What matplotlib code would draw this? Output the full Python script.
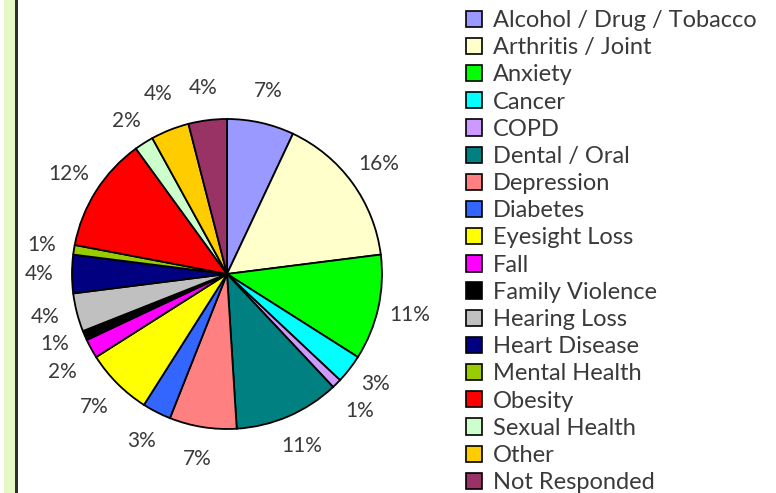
import matplotlib
matplotlib.use("Agg")
import matplotlib.pyplot as plt
from matplotlib.patches import Rectangle, Patch

plt.rcParams['font.family'] = ['Lato', 'DejaVu Sans']

categories = [
    "Alcohol / Drug / Tobacco", "Arthritis / Joint", "Anxiety", "Cancer", "COPD",
    "Dental / Oral", "Depression", "Diabetes", "Eyesight Loss", "Fall",
    "Family Violence", "Hearing Loss", "Heart Disease", "Mental Health",
    "Obesity", "Sexual Health", "Other", "Not Responded",
]
percentages = [7, 16, 11, 3, 1, 11, 7, 3, 7, 2, 1, 4, 4, 1, 12, 2, 4, 4]
colors = [
    "#9999FF", "#FFFFCC", "#00FF00", "#00FFFF", "#CC99FF",
    "#008080", "#FF8080", "#3366FF", "#FFFF00", "#FF00FF",
    "#000000", "#C0C0C0", "#000080", "#99CC00",
    "#FF0000", "#CCFFCC", "#FFCC00", "#993366",
]

W, H = 776, 493
fig = plt.figure(figsize=(W / 100, H / 100), dpi=100)

# frame strip on the left edge
fig.add_artist(Rectangle((4 / W, 0), 11 / W, 1, transform=fig.transFigure,
                         facecolor="#E6F8C4", edgecolor="none"))
fig.add_artist(Rectangle((15 / W, 0), 2.5 / W, 1, transform=fig.transFigure,
                         facecolor="#2E2E2E", edgecolor="none"))

cx, cy, r = 227, 274, 155
ax = fig.add_axes([(cx - r) / W, (H - cy - r) / H, 2 * r / W, 2 * r / H])
wedges, texts = ax.pie(
    percentages, colors=colors, startangle=90, counterclock=False,
    labels=[f"{p}%" for p in percentages], labeldistance=1.21,
    wedgeprops=dict(edgecolor="black", linewidth=1.3),
    textprops=dict(fontsize=15, color="#3A3A3A"),
)
for t in texts:
    t.set_horizontalalignment("center")
    t.set_verticalalignment("center")

# spread crowded percentage labels apart vertically
min_gap = 27 / r
for side in (-1, 1):
    group = [t for t in texts if t.get_position()[0] * side > 0]
    for _ in range(100):
        group.sort(key=lambda t: -t.get_position()[1])
        moved = False
        for a, b in zip(group, group[1:]):
            (xa, ya), (xb, yb) = a.get_position(), b.get_position()
            if abs(xa - xb) < 0.25 and ya - yb < min_gap:
                d = (min_gap - (ya - yb)) / 2 + 1e-4
                a.set_position((xa, ya + d))
                b.set_position((xb, yb - d))
                moved = True
        if not moved:
            break

ax.set_xlim(-1, 1)
ax.set_ylim(-1, 1)
ax.set_aspect("equal")
ax.axis("off")

handles = [Patch(facecolor=c, edgecolor="black", linewidth=1.2) for c in colors]
fig.legend(handles, categories, loc="upper left",
           bbox_to_anchor=(466 / W, 1 - 10 / H), frameon=False,
           fontsize=17, labelcolor="#3A3A3A",
           handlelength=0.68, handleheight=0.68, handletextpad=0.47,
           labelspacing=0.262, borderaxespad=0, borderpad=0)

fig.savefig("out.png", dpi=100)
